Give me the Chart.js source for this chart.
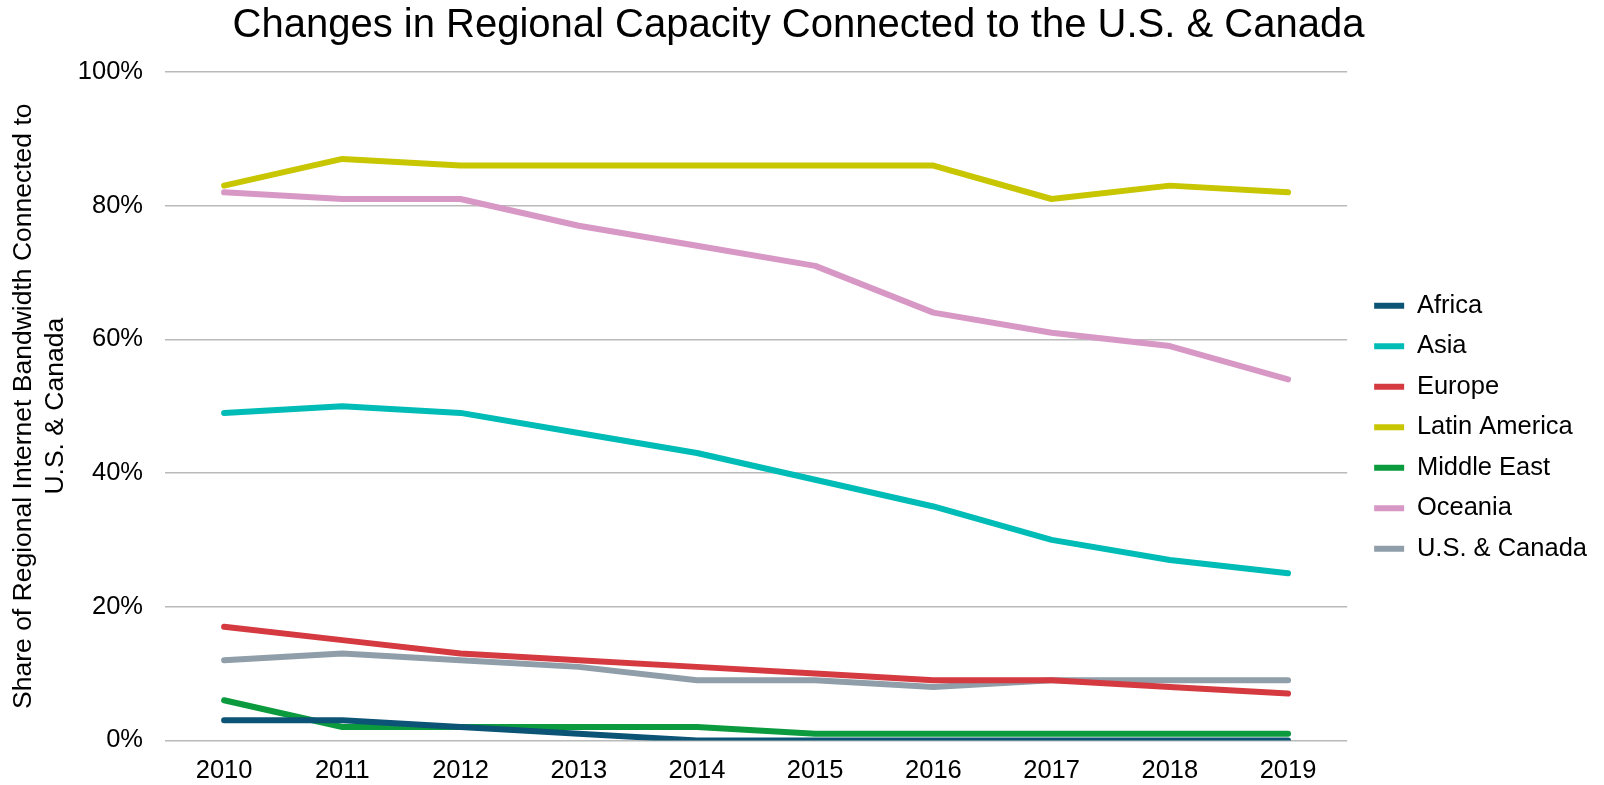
<!DOCTYPE html>
<html>
<head>
<meta charset="utf-8">
<script src="https://cdn.jsdelivr.net/npm/chart.js@4/dist/chart.umd.min.js"></script>
<style>
  html, body { margin: 0; padding: 0; background: #fff; }
  #wrap { width: 1604px; height: 785px; position: relative; }
</style>
</head>
<body>
<div id="wrap"><canvas id="c" width="1604" height="785"></canvas></div>
<script>
const years = ['2010','2011','2012','2013','2014','2015','2016','2017','2018','2019'];
const africa       = [3, 3, 2, 1, 0, 0, 0, 0, 0, 0];
const asia         = [49, 50, 49, 46, 43, 39, 35, 30, 27, 25];
const europe       = [17, 15, 13, 12, 11, 10, 9, 9, 8, 7];
const latinAmerica = [83, 87, 86, 86, 86, 86, 86, 81, 83, 82];
const middleEast   = [6, 2, 2, 2, 2, 1, 1, 1, 1, 1];
const oceania      = [82, 81, 81, 77, 74, 71, 64, 61, 59, 54];
const usCanada     = [12, 13, 12, 11, 9, 9, 8, 9, 9, 9];
const yTicks = [0, 20, 40, 60, 80, 100];

const FONT = '"Liberation Sans", Arial, Helvetica, sans-serif';
Chart.defaults.font.family = FONT;
Chart.defaults.color = '#000';

function ds(label, data, color) {
  return {
    label, data,
    yAxisID: 'y',
    borderColor: color, backgroundColor: color,
    borderWidth: 6, pointRadius: 0, pointHoverRadius: 0,
    borderCapStyle: 'round', borderJoinStyle: 'round',
    tension: 0, fill: false
  };
}

new Chart(document.getElementById('c'), {
  type: 'line',
  data: {
    labels: years,
    datasets: [
      ds('Africa', africa, '#0c5475'),
      ds('Asia', asia, '#00bcb6'),
      ds('Europe', europe, '#d43a40'),
      ds('Latin America', latinAmerica, '#c8c600'),
      ds('Middle East', middleEast, '#0c9a3e'),
      ds('Oceania', oceania, '#d898c6'),
      ds('U.S. & Canada', usCanada, '#8f9ea9')
    ]
  },
  options: {
    responsive: false,
    animation: false,
    devicePixelRatio: 1,
    layout: { padding: { left: 0, right: 7, top: 2, bottom: -16 } },
    plugins: {
      title: {
        display: true,
        text: 'Changes in Regional Capacity Connected to the U.S. & Canada',
        font: { size: 40, weight: 'normal' },
        color: '#000',
        padding: { top: 0, bottom: 22 }
      },
      legend: {
        position: 'right',
        title: { display: true, text: ' ', font: { size: 12 }, padding: 18.5 },
        labels: {
          usePointStyle: true,
          pointStyle: 'line',
          pointStyleWidth: 30,
          boxHeight: 6,
          font: { size: 25.5 },
          color: '#000',
          padding: 15
        }
      },
      tooltip: { enabled: false }
    },
    scales: {
      x: {
        offset: true,
        grid: { display: false, drawTicks: false },
        border: { display: false },
        ticks: { font: { size: 25.5 }, color: '#000', padding: 15, maxRotation: 0 }
      },
      y: {
        position: 'left',
        min: 0, max: 100,
        afterBuildTicks: (scale) => { scale.ticks = yTicks.map(v => ({ value: v })); },
        afterFit: (scale) => { scale.width = 165; },
        grid: { color: '#bababa', lineWidth: 1.5, drawTicks: false },
        border: { display: false },
        ticks: { font: { size: 25.5 }, color: '#000', padding: 22, callback: v => v + '%' },
        title: {
          display: true,
          text: ['Share of Regional Internet Bandwidth Connected to', 'U.S. & Canada'],
          font: { size: 26.5 },
          color: '#000',
          padding: { top: 8, bottom: 0 }
        }
      },
      gap: {
        type: 'linear',
        position: 'right',
        display: true,
        grid: { display: false, drawTicks: false },
        border: { display: false },
        ticks: { display: false },
        afterFit: (scale) => { scale.width = 12; }
      }
    }
  }
});
</script>
</body>
</html>
